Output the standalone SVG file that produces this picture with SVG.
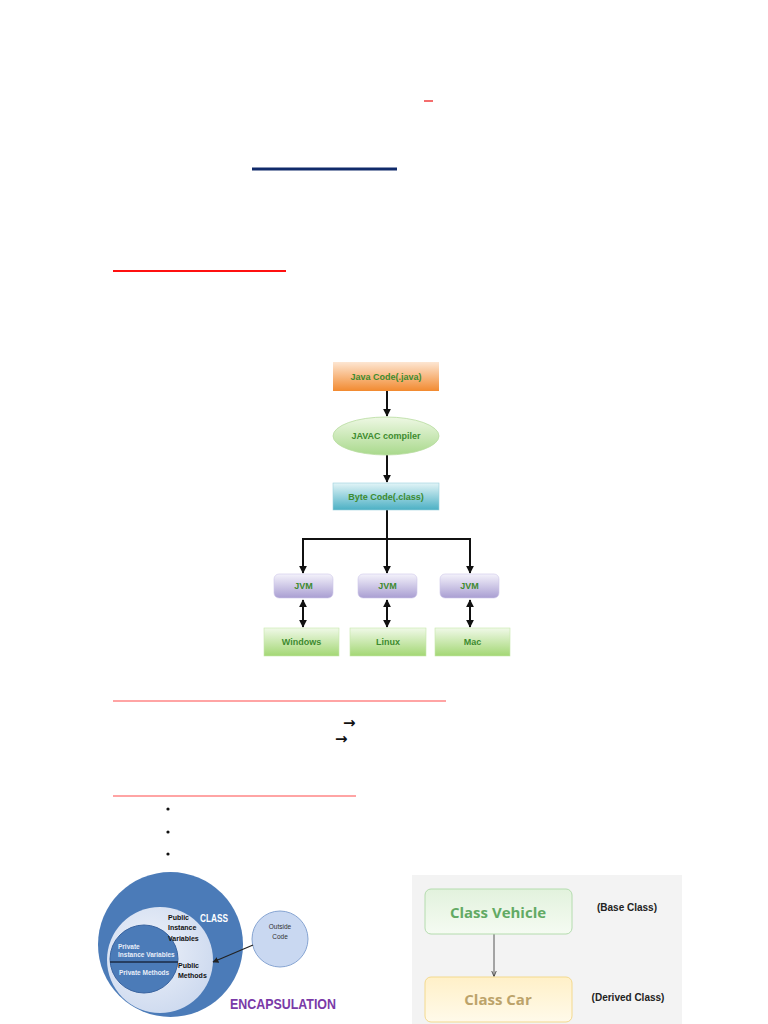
<svg xmlns="http://www.w3.org/2000/svg" width="768" height="1024" viewBox="0 0 768 1024">
<style>
.fc{font-family:"Liberation Sans",Arial,sans-serif;font-weight:bold;font-size:9px;fill:#3d8b2f;text-anchor:middle}
.conn{stroke:#111;stroke-width:2;fill:none}
.enc{font-family:"Liberation Sans Narrow","Liberation Sans",Arial,sans-serif;font-weight:bold}
.cls{font-family:"Open Sans","Liberation Sans",sans-serif;font-weight:bold;text-anchor:middle}
</style>
<defs>
<linearGradient id="gOr" x1="0" y1="0" x2="0" y2="1"><stop offset="0" stop-color="#fde6d2"/><stop offset="1" stop-color="#f28a30"/></linearGradient>
<linearGradient id="gGr" x1="0" y1="0" x2="0" y2="1"><stop offset="0" stop-color="#eef8e4"/><stop offset="1" stop-color="#a9d98c"/></linearGradient>
<linearGradient id="gCy" x1="0" y1="0" x2="0" y2="1"><stop offset="0" stop-color="#e2f4f7"/><stop offset="1" stop-color="#4bb0c4"/></linearGradient>
<linearGradient id="gPu" x1="0" y1="0" x2="0" y2="1"><stop offset="0" stop-color="#f4f2fb"/><stop offset="1" stop-color="#a99ed2"/></linearGradient>
<linearGradient id="gOs" x1="0" y1="0" x2="0" y2="1"><stop offset="0" stop-color="#f0f9e8"/><stop offset="1" stop-color="#a3d774"/></linearGradient>
<linearGradient id="gVe" x1="0" y1="0" x2="0" y2="1"><stop offset="0" stop-color="#e2f2dd"/><stop offset="1" stop-color="#f5fbf2"/></linearGradient>
<linearGradient id="gCa" x1="0" y1="0" x2="0" y2="1"><stop offset="0" stop-color="#fff0c8"/><stop offset="1" stop-color="#fffaea"/></linearGradient>
<radialGradient id="gLt" cx="0.4" cy="0.4" r="0.7"><stop offset="0" stop-color="#eef2fa"/><stop offset="1" stop-color="#cbd8ee"/></radialGradient>
<marker id="ah" viewBox="0 0 10 10" refX="9" refY="5" markerWidth="4" markerHeight="4" orient="auto-start-reverse"><path d="M0,0 L10,5 L0,10 z" fill="#111"/></marker>
<marker id="ah2" viewBox="0 0 10 10" refX="9" refY="5" markerWidth="6" markerHeight="6" orient="auto"><path d="M0,1 L10,5 L0,9" fill="none" stroke="#444" stroke-width="1.5"/></marker>
<marker id="ah3" viewBox="0 0 10 10" refX="9" refY="5" markerWidth="5" markerHeight="5" orient="auto"><path d="M0,0 L10,5 L0,10 z" fill="#222"/></marker>
</defs>
<rect width="768" height="1024" fill="#fff"/>

<g id="rules">
<line x1="424" y1="101" x2="433" y2="101" stroke="#f03c3c" stroke-width="1.5"/>
<line x1="252" y1="169" x2="397" y2="169" stroke="#102a6a" stroke-width="3"/>
<line x1="113" y1="271" x2="286" y2="271" stroke="#ff1010" stroke-width="2"/>
<line x1="113" y1="701" x2="446" y2="701" stroke="#ff4a4a" stroke-width="1.2"/>
<line x1="113" y1="796" x2="356" y2="796" stroke="#ff4a4a" stroke-width="1.2"/>
<text x="343" y="728" font-family="DejaVu Sans,sans-serif" font-weight="bold" font-size="15" fill="#111">→</text>
<text x="335" y="744" font-family="DejaVu Sans,sans-serif" font-weight="bold" font-size="15" fill="#111">→</text>
<circle cx="168" cy="809" r="1.6" fill="#111"/>
<circle cx="168" cy="832" r="1.6" fill="#111"/>
<circle cx="168" cy="854" r="1.6" fill="#111"/>
</g>

<g id="connectors">
<line class="conn" x1="387" y1="391" x2="387" y2="416" marker-end="url(#ah)"/>
<line class="conn" x1="387" y1="455" x2="387" y2="482" marker-end="url(#ah)"/>
<polyline class="conn" points="387,510 387,539"/>
<polyline class="conn" points="303,573 303,539 470,539 470,573" marker-start="url(#ah)" marker-end="url(#ah)"/>
<line class="conn" x1="387" y1="539" x2="387" y2="573" marker-end="url(#ah)"/>
<line class="conn" x1="303" y1="600" x2="303" y2="627" marker-start="url(#ah)" marker-end="url(#ah)"/>
<line class="conn" x1="387" y1="600" x2="387" y2="627" marker-start="url(#ah)" marker-end="url(#ah)"/>
<line class="conn" x1="470" y1="600" x2="470" y2="627" marker-start="url(#ah)" marker-end="url(#ah)"/>
</g>

<g id="n-java"><rect x="333" y="362" width="106" height="29" fill="url(#gOr)"/><text class="fc" x="386" y="380">Java Code(.java)</text></g>
<g id="n-javac"><ellipse cx="386" cy="436" rx="53" ry="19" fill="url(#gGr)" stroke="#b8dca0" stroke-width="0.8"/><text class="fc" x="386" y="439">JAVAC compiler</text></g>
<g id="n-byte"><rect x="333" y="483" width="106" height="27" fill="url(#gCy)" stroke="#9ad0dc" stroke-width="0.6"/><text class="fc" x="386" y="500">Byte Code(.class)</text></g>
<g id="n-jvm1"><rect x="274" y="574" width="59" height="24" rx="5" fill="url(#gPu)" stroke="#cfc8ea" stroke-width="0.6"/><text class="fc" x="303.5" y="589">JVM</text></g>
<g id="n-jvm2"><rect x="358" y="574" width="59" height="24" rx="5" fill="url(#gPu)" stroke="#cfc8ea" stroke-width="0.6"/><text class="fc" x="387.5" y="589">JVM</text></g>
<g id="n-jvm3"><rect x="440" y="574" width="59" height="24" rx="5" fill="url(#gPu)" stroke="#cfc8ea" stroke-width="0.6"/><text class="fc" x="469.5" y="589">JVM</text></g>
<g id="n-win"><rect x="264" y="628" width="75" height="28" fill="url(#gOs)" stroke="#c6e6aa" stroke-width="0.6"/><text class="fc" x="301.5" y="645">Windows</text></g>
<g id="n-linux"><rect x="350" y="628" width="76" height="28" fill="url(#gOs)" stroke="#c6e6aa" stroke-width="0.6"/><text class="fc" x="388" y="645">Linux</text></g>
<g id="n-mac"><rect x="435" y="628" width="75" height="28" fill="url(#gOs)" stroke="#c6e6aa" stroke-width="0.6"/><text class="fc" x="472.5" y="645">Mac</text></g>

<g id="encapsulation">
<circle cx="170.5" cy="944.5" r="72.5" fill="#4b7bb8"/>
<circle cx="160" cy="960" r="53" fill="url(#gLt)"/>
<circle cx="144" cy="959" r="34" fill="#4b7bb8" stroke="#3a64a0" stroke-width="1"/>
<line x1="110" y1="962" x2="178" y2="962" stroke="#1a2a44" stroke-width="1.5"/>
<text class="enc" x="200" y="922" font-size="11.5" fill="#fff" textLength="28" lengthAdjust="spacingAndGlyphs">CLASS</text>
<text class="enc" x="168" y="920" font-size="7" fill="#111">Public</text>
<text class="enc" x="168" y="930" font-size="7" fill="#111">Instance</text>
<text class="enc" x="168" y="941" font-size="7" fill="#111">Variables</text>
<text class="enc" x="118" y="949" font-size="6.5" font-weight="normal" fill="#e8eef8">Private</text>
<text class="enc" x="118" y="957" font-size="6.5" font-weight="normal" fill="#e8eef8">Instance Variables</text>
<text class="enc" x="119" y="975" font-size="6.5" font-weight="normal" fill="#e8eef8">Private  Methods</text>
<text class="enc" x="178" y="968" font-size="7" fill="#111">Public</text>
<text class="enc" x="178" y="978" font-size="7" fill="#111">Methods</text>
<g id="n-outside"><circle cx="280" cy="939" r="28" fill="#c9d8f1" stroke="#86a4d2" stroke-width="1"/>
<text x="280" y="929" font-family="Liberation Sans,Arial,sans-serif" font-size="6.5" fill="#333" text-anchor="middle">Outside</text>
<text x="280" y="939" font-family="Liberation Sans,Arial,sans-serif" font-size="6.5" fill="#333" text-anchor="middle">Code</text></g>
<line x1="253" y1="945" x2="213" y2="962" stroke="#222" stroke-width="1.2" marker-end="url(#ah3)"/>
<text x="230" y="1009" font-family="Liberation Sans Narrow,Liberation Sans,Arial,sans-serif" font-weight="bold" font-size="15" fill="#7a3aa8" textLength="106" lengthAdjust="spacingAndGlyphs">ENCAPSULATION</text>
</g>

<g id="inheritance">
<rect x="412" y="875" width="270" height="149" fill="#f3f3f3"/>
<line x1="494" y1="934" x2="494" y2="976" stroke="#555" stroke-width="1" marker-end="url(#ah2)"/>
<g id="n-vehicle"><rect x="425" y="889" width="147" height="45" rx="6" fill="url(#gVe)" stroke="#b4dcae" stroke-width="1"/><text class="cls" x="498" y="918" font-size="15" fill="#62aa64">Class Vehicle</text></g>
<g id="n-car"><rect x="425" y="977" width="147" height="45" rx="6" fill="url(#gCa)" stroke="#f3d98e" stroke-width="1"/><text class="cls" x="498" y="1005" font-size="15" fill="#bca36a">Class Car</text></g>
<text x="627" y="911" font-family="Liberation Sans,Arial,sans-serif" font-weight="bold" font-size="10" fill="#222" text-anchor="middle">(Base Class)</text>
<text x="628" y="1001" font-family="Liberation Sans,Arial,sans-serif" font-weight="bold" font-size="10" fill="#222" text-anchor="middle">(Derived Class)</text>
</g>
</svg>
